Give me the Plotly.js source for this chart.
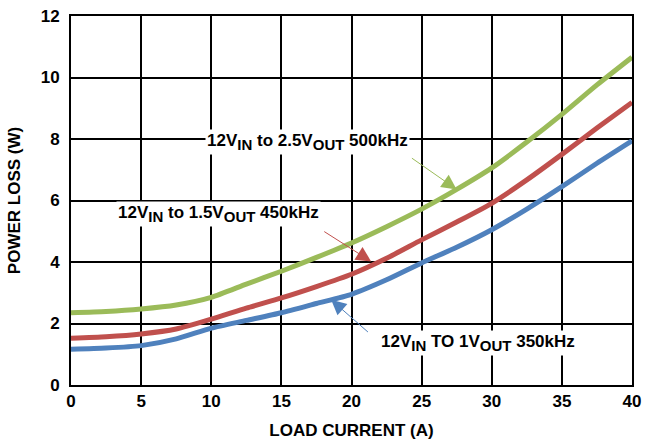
<!DOCTYPE html>
<html>
<head>
<meta charset="utf-8">
<script src="https://cdn.plot.ly/plotly-3.0.1.min.js"></script>
<style>html,body{margin:0;padding:0;background:#fff;}#chart{width:657px;height:444px;}</style>
</head>
<body>
<div id="chart"></div>
<script>
var loadCurrent = [0,2.5,5,7.5,10,12.5,15,17.5,20,22.5,25,27.5,30,32.5,35,37.5,40];
var loss25V500k = [2.35,2.39,2.47,2.6,2.85,3.28,3.7,4.15,4.62,5.15,5.72,6.36,7.06,7.9,8.8,9.76,10.66];
var loss15V450k = [1.52,1.57,1.66,1.82,2.14,2.5,2.83,3.2,3.6,4.12,4.72,5.3,5.91,6.67,7.5,8.36,9.19];
var loss1V350k  = [1.16,1.2,1.28,1.5,1.85,2.1,2.35,2.65,2.95,3.42,3.97,4.48,5.05,5.72,6.45,7.21,7.94];
var seriesNames = [
  '12V<sub><span style="font-size:15px">IN</span></sub> to 2.5V<sub><span style="font-size:15px">OUT</span></sub> 500kHz',
  '12V<sub><span style="font-size:15px">IN</span></sub> to 1.5V<sub><span style="font-size:15px">OUT</span></sub> 450kHz',
  '12V<sub><span style="font-size:15px">IN</span></sub> TO 1V<sub><span style="font-size:15px">OUT</span></sub> 350kHz'
];
var xTicks = [0,5,10,15,20,25,30,35,40];
var yTicks = [0,2,4,6,8,10,12];

var colors = ['#9BBB59','#C0504D','#4F81BD'];
var ys = [loss25V500k, loss15V450k, loss1V350k];
var traces = ys.map(function(y,i){
  return {x: loadCurrent, y: y, type:'scatter', mode:'lines', name: seriesNames[i],
    line:{color:colors[i], width:5, shape:'spline', smoothing:0.6}, showlegend:false, hoverinfo:'skip'};
});

var font = {family:'Liberation Sans, Arial, sans-serif', size:17, color:'#000', weight:'bold'};
var annFont = {family:'Liberation Sans, Arial, sans-serif', size:17, color:'#000', weight:'bold'};
// label positions (data coords) and arrows (tail -> head)
var labels = [
  {x:16.84, y:7.91, t:seriesNames[0], c:colors[0], ax:24.2, ay:7.41, hx:27.5, hy:6.36},
  {x:10.5, y:5.56, t:seriesNames[1], c:colors[1], ax:17.95, ay:5.02, hx:21.4, hy:4.02},
  {x:29.0, y:1.36, t:seriesNames[2], c:colors[2], ax:21.28, ay:1.68, hx:18.55, hy:2.77}
];
var annotations = [];
labels.forEach(function(L){
  annotations.push({x:L.hx, y:L.hy, xref:'x', yref:'y', ax:L.ax, ay:L.ay, axref:'x', ayref:'y',
    text:'', showarrow:true, arrowhead:2, arrowsize:3, arrowwidth:1, arrowcolor:L.c, standoff:0});
});
labels.forEach(function(L){
  annotations.push({x:L.x, y:L.y, xref:'x', yref:'y', text:L.t, showarrow:false,
    bgcolor:'#fff', font:annFont, borderpad:1});
});

var layout = {
  width:657, height:444,
  margin:{l:71, r:25, t:16, b:59},
  paper_bgcolor:'#fff', plot_bgcolor:'#fff',
  font:font,
  xaxis:{range:[0,40], tickvals:xTicks, ticktext:xTicks.map(String), showgrid:true, gridcolor:'#000', gridwidth:2,
    showline:true, linecolor:'#000', linewidth:2, mirror:true, zeroline:false, ticks:'', tickfont:font,
    title:{text:'LOAD CURRENT (A)', font:font, standoff:14}},
  yaxis:{range:[0,12], tickvals:yTicks, ticktext:yTicks.map(String), showgrid:true, gridcolor:'#000', gridwidth:2,
    showline:true, linecolor:'#000', linewidth:2, mirror:true, zeroline:false, ticks:'', tickfont:font,
    ticklabelstandoff:6,
    title:{text:'POWER LOSS (W)', font:font, standoff:16}},
  annotations:annotations
};
Plotly.newPlot('chart', traces, layout, {staticPlot:true, displayModeBar:false});
</script>
</body>
</html>
